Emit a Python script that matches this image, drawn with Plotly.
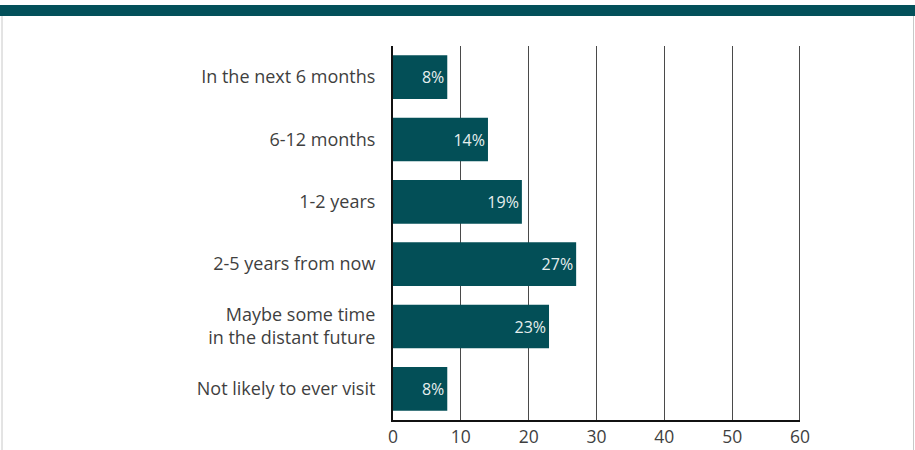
import plotly.graph_objects as go

# Survey responses: when respondents expect to visit
categories = [
    "In the next 6 months",
    "6-12 months",
    "1-2 years",
    "2-5 years from now",
    "Maybe some time<br>in the distant future",
    "Not likely to ever visit",
]
shares = [8, 14, 19, 27, 23, 8]
value_labels = ["8%", "14%", "19%", "27%", "23%", "8%"]
x_ticks = [0, 10, 20, 30, 40, 50, 60]

TEAL = "#034f57"
FONT = "'Open Sans', Lato, sans-serif"

fig = go.Figure(
    go.Bar(
        x=shares,
        y=categories,
        orientation="h",
        marker=dict(color=TEAL, line=dict(width=0)),
        width=0.7,
        text=value_labels,
        textposition="inside",
        insidetextanchor="end",
        textfont=dict(family=FONT, size=16, color="#e6eeee"),
        cliponaxis=False,
        hoverinfo="skip",
    )
)

W, H = 915, 450
L, R, T, B = 393, 115, 46, 30
pw, ph = W - L - R, H - T - B


def px_x(px):
    return (px - L) / pw


def px_y(py):
    return (H - B - py) / ph


shapes = [
    # header band
    dict(type="rect", xref="paper", yref="paper",
         x0=px_x(0), x1=px_x(W), y0=px_y(16), y1=px_y(5),
         fillcolor="#03505a", line=dict(width=0), layer="below"),
    # frame sides
    dict(type="line", xref="paper", yref="paper",
         x0=px_x(2), x1=px_x(2), y0=px_y(H), y1=px_y(16),
         line=dict(color="#c8c8c8", width=1)),
    dict(type="line", xref="paper", yref="paper",
         x0=px_x(913.5), x1=px_x(913.5), y0=px_y(H), y1=px_y(16),
         line=dict(color="#c8c8c8", width=1)),
    # closing gridline at the end of the value axis
    dict(type="line", xref="x", yref="paper",
         x0=x_ticks[-1], x1=x_ticks[-1], y0=0, y1=1,
         line=dict(color="#111111", width=1.5)),
]

fig.update_layout(
    width=W,
    height=H,
    margin=dict(l=L, r=R, t=T, b=B),
    paper_bgcolor="white",
    plot_bgcolor="white",
    showlegend=False,
    bargap=0.3,
    shapes=shapes,
    font=dict(family=FONT, color="#3a3a3a", size=16),
    xaxis=dict(
        range=[0, 60],
        tickvals=x_ticks,
        ticktext=[str(v) for v in x_ticks],
        showgrid=True,
        gridcolor="#4a4a4a",
        gridwidth=1,
        zeroline=False,
        showline=True,
        linecolor="#111111",
        linewidth=2,
        ticks="",
        tickfont=dict(size=17.5, color="#3f3f3f"),
        automargin=False,
        fixedrange=True,
    ),
    yaxis=dict(
        autorange="reversed",
        showline=True,
        linecolor="#111111",
        linewidth=2,
        showgrid=False,
        ticks="outside",
        ticklen=12,
        tickcolor="rgba(0,0,0,0)",
        tickfont=dict(size=18, color="#3f3f3f"),
        automargin=False,
        fixedrange=True,
    ),
)

fig.write_html("out.html", config={"displayModeBar": False})
